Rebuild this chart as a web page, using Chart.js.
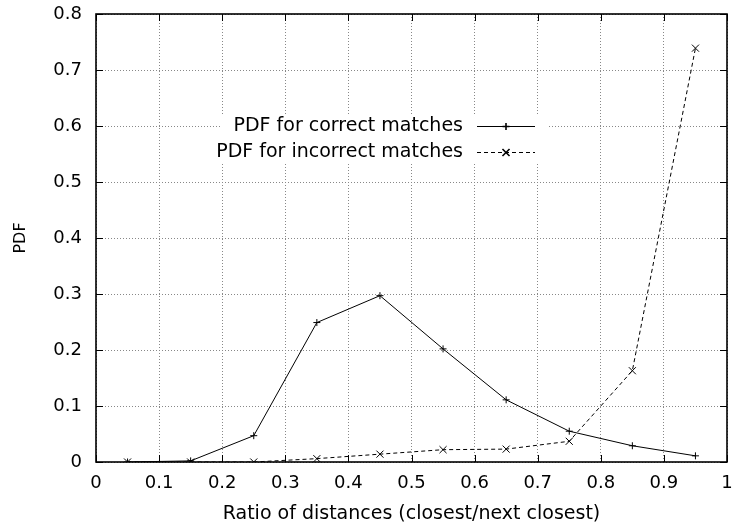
<!DOCTYPE html>
<html>
<head>
<meta charset="utf-8">
<script src="https://cdn.jsdelivr.net/npm/chart.js@4/dist/chart.umd.min.js"></script>
<style>
  html, body { margin: 0; padding: 0; background: #fff; }
  #wrap { width: 733px; height: 529px; }
</style>
</head>
<body>
<div id="wrap"><canvas id="c" width="733" height="529"></canvas></div>
<script>
const ratios = [0.05, 0.15, 0.25, 0.35, 0.45, 0.55, 0.65, 0.75, 0.85, 0.95];
const correctPdf = [0.000, 0.002, 0.047, 0.249, 0.297, 0.202, 0.111, 0.055, 0.029, 0.011];
const incorrectPdf = [0.000, 0.000, 0.000, 0.006, 0.014, 0.022, 0.023, 0.037, 0.163, 0.739];
const seriesNames = ['PDF for correct matches', 'PDF for incorrect matches'];
const xTicks = [0, 0.1, 0.2, 0.3, 0.4, 0.5, 0.6, 0.7, 0.8, 0.9, 1];
const yTicks = [0, 0.1, 0.2, 0.3, 0.4, 0.5, 0.6, 0.7, 0.8];
const xTitle = 'Ratio of distances (closest/next closest)';
const yTitle = 'PDF';

const FONT = 'DejaVu Sans';

function pts(ys) { return ratios.map((x, i) => ({ x: x, y: ys[i] })); }

function zeroPad(scale) {
  scale.paddingLeft = 0; scale.paddingRight = 0;
  scale.paddingTop = 0; scale.paddingBottom = 0;
}

const framePlugin = {
  id: 'frame',
  afterDatasetsDraw(chart) {
    const { ctx, chartArea: a, scales } = chart;
    const xs = scales.x, ys = scales.y;
    ctx.save();
    // inward ticks on all four sides
    ctx.strokeStyle = '#000';
    ctx.lineWidth = 1;
    ctx.beginPath();
    xTicks.forEach(v => {
      const px = Math.round(xs.getPixelForValue(v)) + 0.5;
      ctx.moveTo(px, a.bottom); ctx.lineTo(px, a.bottom - 7);
      ctx.moveTo(px, a.top); ctx.lineTo(px, a.top + 7);
    });
    yTicks.forEach(v => {
      const py = Math.round(ys.getPixelForValue(v)) + 0.5;
      ctx.moveTo(a.left, py); ctx.lineTo(a.left + 7, py);
      ctx.moveTo(a.right, py); ctx.lineTo(a.right - 7, py);
    });
    ctx.stroke();
    // border
    ctx.lineWidth = 1.6;
    ctx.strokeRect(a.left, a.top, a.right - a.left, a.bottom - a.top);

    // legend inside plot
    const boxL = 222, boxR = 547, boxT = 114, boxB = 163;
    ctx.fillStyle = '#fff';
    ctx.fillRect(boxL, boxT, boxR - boxL, boxB - boxT);
    ctx.font = '19px "' + FONT + '"';
    ctx.fillStyle = '#000';
    ctx.textAlign = 'right';
    ctx.textBaseline = 'middle';
    const rowsY = [126, 152];
    const textRight = 463, lineL = 477, lineR = 535;
    chart.data.datasets.forEach((ds, i) => {
      const y = rowsY[i];
      ctx.fillText(ds.label, textRight, y);
      ctx.save();
      ctx.strokeStyle = '#000';
      ctx.lineWidth = 1;
      ctx.setLineDash(ds.borderDash || []);
      ctx.beginPath();
      ctx.moveTo(lineL, y + 0.5); ctx.lineTo(lineR, y + 0.5);
      ctx.stroke();
      ctx.restore();
      Chart.helpers.drawPoint(ctx, {
        pointStyle: ds.pointStyle, radius: ds.pointRadius, borderWidth: 1, rotation: 0
      }, (lineL + lineR) / 2, y + 0.5);
    });
    ctx.restore();
  }
};

new Chart(document.getElementById('c'), {
  type: 'line',
  data: {
    datasets: [
      {
        label: seriesNames[0],
        data: pts(correctPdf),
        borderColor: '#000',
        backgroundColor: '#000',
        borderWidth: 1,
        pointStyle: 'cross',
        pointRadius: 3.5,
        pointBorderWidth: 1,
        pointBorderColor: '#000',
        fill: false,
        tension: 0
      },
      {
        label: seriesNames[1],
        data: pts(incorrectPdf),
        borderColor: '#000',
        backgroundColor: '#000',
        borderWidth: 1,
        borderDash: [4, 3],
        pointStyle: 'crossRot',
        pointRadius: 5,
        pointBorderWidth: 1,
        pointBorderColor: '#000',
        fill: false,
        tension: 0
      }
    ]
  },
  options: {
    responsive: false,
    animation: false,
    devicePixelRatio: 1,
    layout: { padding: { left: 0, top: 14, right: 2, bottom: 0 } },
    plugins: {
      legend: { display: false },
      tooltip: { enabled: false },
      title: { display: false }
    },
    scales: {
      x: {
        type: 'linear',
        min: 0, max: 1,
        afterBuildTicks(scale) { scale.ticks = xTicks.map(v => ({ value: v })); },
        afterFit(scale) { scale.height = 67; zeroPad(scale); },
        ticks: {
          color: '#000',
          font: { family: FONT, size: 18 },
          padding: 11,
          maxRotation: 0,
          autoSkip: false,
          callback: (v) => String(Math.round(v * 10) / 10)
        },
        grid: { color: '#888', lineWidth: 1, drawTicks: false },
        border: { display: false, dash: [1, 2] },
        title: {
          display: true, text: xTitle, color: '#000',
          font: { family: FONT, size: 19 },
          padding: { top: 0, bottom: 4 }
        }
      },
      y: {
        type: 'linear',
        min: 0, max: 0.8,
        afterBuildTicks(scale) { scale.ticks = yTicks.map(v => ({ value: v })); },
        afterFit(scale) { scale.width = 96; zeroPad(scale); },
        ticks: {
          color: '#000',
          font: { family: FONT, size: 18 },
          padding: 14,
          autoSkip: false,
          callback: (v) => String(Math.round(v * 10) / 10)
        },
        grid: { color: '#888', lineWidth: 1, drawTicks: false },
        border: { display: false, dash: [1, 2] },
        title: {
          display: true, text: yTitle, color: '#000',
          font: { family: FONT, size: 16 },
          padding: { top: 11, bottom: 0 }
        }
      }
    }
  },
  plugins: [framePlugin]
});
</script>
</body>
</html>
